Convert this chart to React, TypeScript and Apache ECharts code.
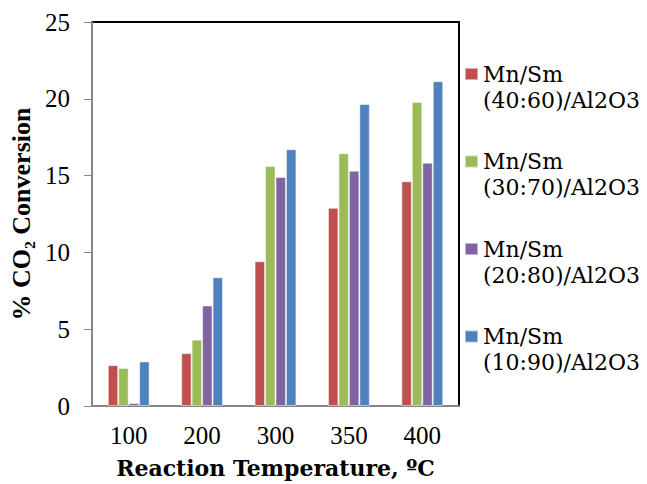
import React, { useEffect, useRef } from "react";
import * as echarts from "echarts";

const categories = ["100", "200", "300", "350", "400"];
const seriesNames = [
  "Mn/Sm (40:60)/Al2O3",
  "Mn/Sm (30:70)/Al2O3",
  "Mn/Sm (20:80)/Al2O3",
  "Mn/Sm (10:90)/Al2O3",
];
const s4060 = [2.66, 3.44, 9.42, 12.9, 14.63];
const s3070 = [2.48, 4.32, 15.62, 16.46, 19.79];
const s2080 = [0.19, 6.55, 14.91, 15.32, 15.84];
const s1090 = [2.9, 8.38, 16.72, 19.66, 21.15];
const colors = ["#C0504D", "#9BBB59", "#8064A2", "#4F81BD"];
const yTicks = { min: 0, max: 25, interval: 5 };

const TIMES = "'Liberation Serif', 'Times New Roman', serif";
const WIDE = "'DejaVu Serif', serif";

export default function App() {
  const ref = useRef<HTMLDivElement>(null);
  useEffect(() => {
    if (!ref.current) return;
    const chart = echarts.init(ref.current, undefined, { renderer: "svg" });
    const values = [s4060, s3070, s2080, s1090];
    chart.setOption({
      animation: false,
      backgroundColor: "#fff",
      grid: {
        left: 92,
        right: 188,
        top: 22,
        bottom: 76,
        show: true,
        borderColor: "#000",
        borderWidth: 2,
      },
      legend: {
        orient: "vertical",
        left: 464,
        top: 35,
        padding: 0,
        itemWidth: 13,
        itemHeight: 12,
        itemGap: 9.5,
        icon: "rect",
        formatter: (n: string) => "\u00a0\n" + n.replace(" ", "\n"),
        textStyle: {
          fontFamily: WIDE,
          fontSize: 22,
          lineHeight: 26,
          color: "#000",
        },
        data: seriesNames,
      },
      xAxis: {
        type: "category",
        data: categories,
        axisLine: { lineStyle: { color: "#868686", width: 2 } },
        axisTick: { alignWithLabel: true, length: 5, lineStyle: { color: "#868686", width: 2 } },
        axisLabel: {
          fontFamily: TIMES,
          fontSize: 25,
          color: "#000",
          margin: 17,
        },
        name: "Reaction Temperature, ºC",
        nameLocation: "middle",
        nameGap: 51,
        nameTextStyle: {
          fontFamily: WIDE,
          fontWeight: "bold",
          fontSize: 22,
          color: "#000",
        },
      },
      yAxis: {
        type: "value",
        min: yTicks.min,
        max: yTicks.max,
        interval: yTicks.interval,
        splitLine: { show: false },
        axisLine: { show: true, lineStyle: { color: "#868686", width: 2 } },
        axisTick: { show: true, length: 8, lineStyle: { color: "#868686", width: 1 } },
        axisLabel: {
          fontFamily: TIMES,
          fontSize: 25,
          color: "#000",
          margin: 22,
        },
        name: "% CO₂ Conversion",
        nameLocation: "middle",
        nameGap: 58,
        nameTextStyle: {
          fontFamily: TIMES,
          fontWeight: "bold",
          fontSize: 26,
          color: "#000",
        },
      },
      series: seriesNames.map((name, i) => ({
        name,
        type: "bar",
        data: values[i],
        barGap: "0%",
        barCategoryGap: "43%",
        itemStyle: {
          color: colors[i],
          borderColor: "rgba(255,255,255,0.5)",
          borderWidth: 1,
        },
      })),
    });
    return () => chart.dispose();
  }, []);
  return (
    <div
      ref={ref}
      style={{ position: "absolute", left: 0, top: 0, width: 647, height: 484 }}
    />
  );
}
